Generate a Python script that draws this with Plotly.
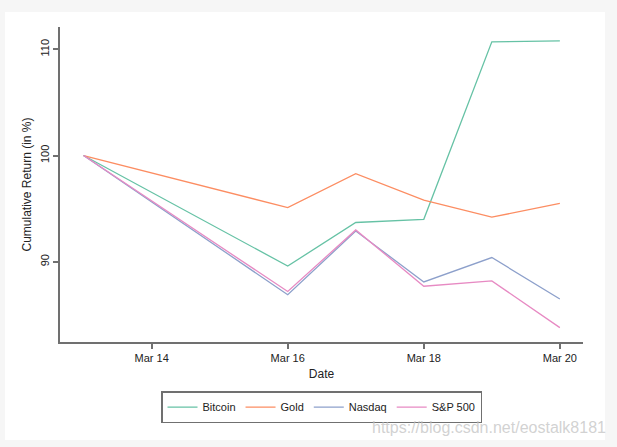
import plotly.graph_objects as go

# Cumulative returns, March 2020 (index = 100 on Mar 13)
dates = ["2020-03-13", "2020-03-16", "2020-03-17", "2020-03-18", "2020-03-19", "2020-03-20"]
bitcoin = [100, 89.6, 93.7, 94.0, 110.7, 110.8]
gold = [100, 95.1, 98.3, 95.8, 94.2, 95.5]
nasdaq = [100, 86.9, 92.9, 88.1, 90.4, 86.5]
sp500 = [100, 87.2, 93.0, 87.7, 88.2, 83.8]

names = ["Bitcoin", "Gold", "Nasdaq", "S&P 500"]
colors = ["#66c2a5", "#fc8d62", "#8da0cb", "#e78ac3"]
series = [bitcoin, gold, nasdaq, sp500]

x_ticks = ["2020-03-14", "2020-03-16", "2020-03-18", "2020-03-20"]
y_ticks = [90, 100, 110]

data = [
    go.Scatter(x=dates, y=vals, mode="lines", name=n, line={"color": c, "width": 1.3})
    for n, c, vals in zip(names, colors, series)
]

axis_font = {"family": "Liberation Sans, Arial, sans-serif", "size": 11, "color": "#222"}

line_style = {
    "showgrid": False,
    "zeroline": False,
    "showline": True,
    "linecolor": "#707070",
    "linewidth": 2,
    "ticks": "outside",
    "ticklen": 5,
    "tickcolor": "#707070",
    "tickwidth": 1.5,
}

layout = go.Layout(
    width=617,
    height=447,
    margin={"l": 60, "r": 34, "t": 27, "b": 105},
    paper_bgcolor="#f6f6f6",
    plot_bgcolor="white",
    font=axis_font,
    xaxis={
        "title": {"text": "Date", "font": {"size": 12}, "standoff": 6},
        "range": ["2020-03-12 15:40", "2020-03-20 08:10"],
        "tickvals": x_ticks,
        "tickformat": "%b %d",
        **line_style,
    },
    yaxis={
        "title": {"text": "Cumulative Return (in %)", "font": {"size": 12}, "standoff": 4},
        "range": [82.45, 112.1],
        "tickvals": y_ticks,
        "tickangle": -90,
        **line_style,
    },
    legend={
        "orientation": "h",
        "x": 0.5,
        "xanchor": "center",
        "y": -0.156,
        "yanchor": "top",
        "bordercolor": "#707070",
        "borderwidth": 1.5,
        "bgcolor": "white",
        "font": {"size": 11},
        "itemwidth": 30,
    },
    showlegend=True,
    shapes=[
        {
            "type": "rect", "xref": "paper", "yref": "paper", "layer": "below",
            "x0": -0.105, "x1": 1.042, "y0": -0.311, "y1": 1.048,
            "fillcolor": "white", "line": {"width": 0},
        }
    ],
    annotations=[
        {
            "text": "https://blog.csdn.net/eostalk8181", "xref": "paper", "yref": "paper",
            "x": 1.048, "y": -0.27, "xanchor": "right", "yanchor": "middle",
            "showarrow": False, "font": {"size": 16, "color": "rgba(195,195,195,0.75)"},
        }
    ],
)

fig = go.Figure(data=data, layout=layout)
fig.write_html(
    "out.html",
    config={"displayModeBar": False},
    post_script="document.body.style.margin='0';",
)
